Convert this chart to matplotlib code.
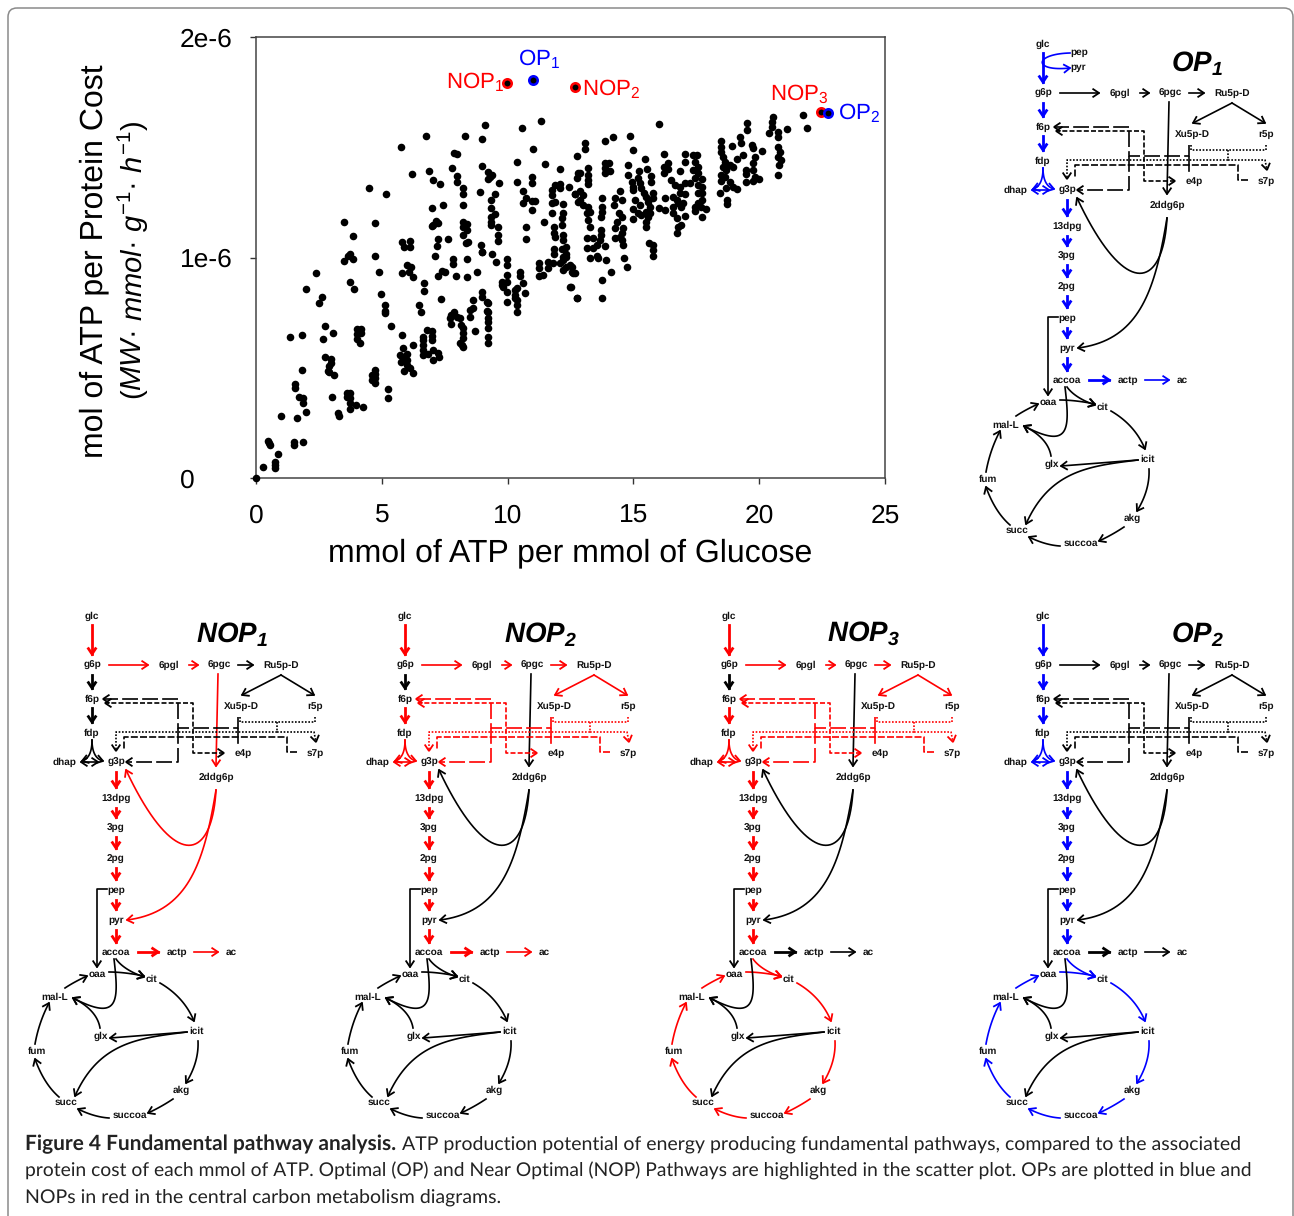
import numpy as np
from matplotlib import pyplot as plt
from matplotlib.patches import FancyBboxPatch

plt.rcParams['font.family'] = ['Liberation Sans', 'DejaVu Sans']
plt.rcParams['mathtext.fontset'] = 'custom'
plt.rcParams['mathtext.rm'] = 'Liberation Sans'
plt.rcParams['mathtext.it'] = 'Liberation Sans:italic'
plt.rcParams['mathtext.bf'] = 'Liberation Sans:bold'
plt.rcParams['mathtext.bfit'] = 'Liberation Sans:italic:bold'
plt.rcParams['text.hinting'] = 'none'

# scatter data: (mmol ATP per mmol glucose, 1e-6 mol ATP per protein cost)
pts_lower_left = [
    (0, 0), (.29, .048), (.74, .044), (.74, .059), (.75, .074), (.87, .109), (.49, .169), (.53, .16), (.57, .148),
    (1.5, .165), (1.5, .15), (1.85, .162), (.99, .281), (1.62, .271), (1.99, .298), (1.56, .425), (1.56, .407),
    (1.72, .367), (1.85, .361), (1.85, .339), (1.81, .49), (1.36, .641), (1.83, .65), (1.99, .857), (2.37, .931),
    (2.49, .792), (2.61, .819), (2.74, .689), (2.68, .629), (3.07, .658), (2.74, .55), (2.98, .538), (2.98, .523),
    (2.89, .508), (2.86, .487), (2.89, .479), (3.11, .466), (3.01, .367), (3.27, .293), (3.29, .281), (3.6, .387),
    (3.74, .384), (3.6, .366), (3.74, .361), (3.74, .339), (3.74, .314), (3.99, .331), (4.24, .32), (3.75, .89),
    (3.91, .856), (3.5, .986), (3.67, 1.007), (3.74, 1.016), (3.84, .993), (4.74, 1.007), (4.87, .936), (4.98, .834),
    (5.11, .785), (5.11, .757), (5.11, .747), (5.36, .689), (4.0, .674), (4.16, .674), (4.0, .653), (4.16, .656),
    (4.0, .629), (4.13, .611), (5.79, .649), (4.73, .49), (4.73, .472), (4.6, .467), (4.73, .452), (4.6, .444),
    (4.73, .429), (5.25, .404), (5.25, .361), (5.79, .928), (6.01, .966), (6.15, .958), (6.09, .936), (6.25, .913),
    (5.72, .558), (5.99, .562), (5.75, .528), (6.01, .535), (5.85, .588), (5.88, .487), (6.12, .497), (6.23, .478),
    (5.85, .543), (5.99, .512), (6.25, .603), (6.69, .883), (6.69, .85), (6.49, .785), (6.54, .754), (6.62, .641),
    (6.78, .671), (6.98, .666), (6.98, .644), (6.62, .625), (6.62, .603), (6.62, .58), (6.62, .558), (6.85, .562),
    (6.98, .626), (7.05, .58), (7.24, .565), (7.28, .547), (7.05, .535), (7.13, 1.007), (7.25, .916), (7.38, .94),
    (7.51, .936), (7.36, .81), (7.83, .992), (7.83, .97), (7.95, .916), (8.37, .993), (8.37, .913), (8.79, .936),
    (8.97, 1.026), (9.38, 1.016), (9.54, .98), (9.99, .992), (9.99, .966), (7.7, .724), (7.87, .754), (7.77, .739),
    (8.0, .732), (8.11, .724), (7.74, .698), (8.13, .694), (8.21, .679), (8.24, .656), (8.24, .633), (8.11, .611),
    (8.24, .596), (8.17, .603), (8.5, .732), (8.61, .807), (8.5, .762), (8.64, .77), (8.7, .668), (8.99, .845),
    (8.99, .822), (9.17, .8), (9.23, .792), (9.17, .759), (9.23, .754), (9.23, .724), (9.23, .709), (9.23, .679),
    (9.23, .638), (9.23, .611), (9.76, .89), (9.96, .921), (9.96, .89), (9.83, .868), (9.96, .845), (9.96, .8),
    (9.76, .875), (10.49, .936), (10.49, .916), (10.62, .886), (10.7, .84), (10.29, .853), (10.36, .86), (10.29, .83),
    (10.36, .807), (10.36, .785), (10.36, .754), (10.29, .815), (11.23, .977), (11.23, .951), (11.23, .916),
    (11.39, .921), (11.62, .951), (11.62, .981), (11.81, .977), (12.08, .974), (12.21, .989), (12.34, 1.004),
    (12.34, .958), (12.21, .943), (12.48, .966), (12.55, .936), (12.68, .928), (12.49, .868), (12.74, .815),
]
pts_upper_left = [
    (3.5, 1.163), (4.74, 1.155), (3.84, 1.097), (4.49, 1.314), (5.15, 1.286), (5.75, 1.5), (6.21, 1.379), (6.74, 1.551),
    (6.86, 1.391), (7.03, 1.353), (7.32, 1.332), (7.79, 1.407), (7.87, 1.472), (8.0, 1.468), (7.99, 1.371), (7.99, 1.344),
    (8.24, 1.315), (8.24, 1.286), (8.24, 1.237), (7.44, 1.238), (6.98, 1.223), (7.05, 1.147), (7.15, 1.167), (6.98, 1.143),
    (7.25, 1.155), (8.24, 1.163), (8.37, 1.152), (8.24, 1.14), (8.37, 1.125), (8.24, 1.102), (8.44, 1.072), (8.34, 1.064),
    (7.25, 1.082), (7.65, 1.082), (7.18, 1.052), (5.79, 1.07), (6.12, 1.076), (5.88, 1.049), (6.12, 1.049), (8.32, 1.551),
    (8.99, 1.539), (9.11, 1.601), (8.99, 1.416), (9.23, 1.389), (9.3, 1.367), (9.23, 1.354), (9.38, 1.374), (9.66, 1.339),
    (8.9, 1.296), (9.5, 1.286), (9.36, 1.261), (9.36, 1.223), (9.5, 1.197), (9.36, 1.185), (9.36, 1.163), (9.36, 1.147),
    (9.6, 1.14), (9.63, 1.102), (9.63, 1.076), (8.93, 1.057), (8.97, 1.026), (10.36, 1.432), (10.36, 1.344), (10.58, 1.589),
    (11.32, 1.621), (10.99, 1.492), (11.48, 1.422), (12.08, 1.4), (12.45, 1.321), (10.95, 1.367), (10.95, 1.336),
    (10.62, 1.303), (10.75, 1.271), (10.62, 1.249), (10.95, 1.256), (11.08, 1.256), (10.95, 1.215), (10.75, 1.14),
    (10.75, 1.082), (11.44, 1.163), (11.75, 1.306), (11.75, 1.283), (11.88, 1.329), (12.08, 1.333), (12.08, 1.314),
    (11.75, 1.246), (11.88, 1.253), (12.19, 1.243), (11.75, 1.2), (12.19, 1.2), (12.15, 1.177), (12.15, 1.147),
    (11.84, 1.137), (11.84, 1.109), (11.88, 1.094), (12.21, 1.102), (12.21, 1.079), (11.84, 1.04), (11.84, 1.017),
    (12.15, 1.04), (12.34, 1.047), (12.34, 1.017), (12.21, 1.004), (12.74, 1.46), (12.74, 1.359), (12.8, 1.382),
    (12.68, 1.286), (12.8, 1.253),
]
pts_upper_right = [
    (13.07, 1.518), (13.07, 1.491), (13.87, 1.527), (14.2, 1.545), (14.86, 1.551), (15.0, 1.488), (16.0, 1.605),
    (15.46, 1.447), (13.2, 1.404), (13.2, 1.374), (13.2, 1.352), (13.2, 1.333), (12.87, 1.382), (13.87, 1.427),
    (14.05, 1.427), (13.87, 1.404), (14.07, 1.394), (13.87, 1.382), (14.8, 1.42), (14.8, 1.374), (15.23, 1.394),
    (15.55, 1.4), (15.7, 1.37), (15.7, 1.344), (14.93, 1.344), (14.97, 1.321), (15.19, 1.359), (15.26, 1.336),
    (14.97, 1.306), (15.32, 1.314), (15.42, 1.291), (15.52, 1.276), (15.59, 1.253), (15.66, 1.231), (15.79, 1.291),
    (15.79, 1.268), (15.06, 1.261), (15.26, 1.238), (14.97, 1.218), (15.19, 1.203), (15.32, 1.193), (15.52, 1.208),
    (15.59, 1.185), (15.66, 1.2), (15.5, 1.163), (15.5, 1.14), (14.97, 1.175), (16.0, 1.223), (16.2, 1.469), (16.38, 1.43),
    (16.2, 1.412), (16.38, 1.4), (16.2, 1.382), (16.85, 1.394), (17.05, 1.469), (17.05, 1.435), (17.38, 1.465),
    (17.51, 1.465), (17.44, 1.435), (17.58, 1.412), (17.38, 1.397), (17.58, 1.382), (17.44, 1.359), (17.24, 1.336),
    (17.05, 1.336), (17.73, 1.356), (17.58, 1.329), (17.73, 1.321), (17.58, 1.291), (17.73, 1.291), (17.73, 1.261),
    (17.58, 1.246), (17.44, 1.231), (17.44, 1.211), (17.7, 1.231), (17.87, 1.218), (17.73, 1.185), (16.51, 1.351),
    (16.65, 1.329), (16.85, 1.321), (17.05, 1.288), (16.25, 1.268), (16.58, 1.276), (16.85, 1.291), (16.72, 1.261),
    (16.25, 1.214), (16.58, 1.231), (16.78, 1.246), (16.98, 1.249), (16.91, 1.231), (17.05, 1.188), (16.58, 1.2),
    (16.74, 1.177), (16.78, 1.14), (16.72, 1.109), (16.91, 1.147), (18.5, 1.53), (18.5, 1.503), (18.5, 1.48), (18.57, 1.457),
    (18.63, 1.435), (18.57, 1.412), (18.83, 1.42), (18.7, 1.397), (18.97, 1.412), (18.5, 1.374), (18.63, 1.366), (18.5, 1.347),
    (18.83, 1.344), (18.97, 1.321), (18.7, 1.314), (19.13, 1.311), (18.44, 1.291), (18.73, 1.263), (18.73, 1.243),
    (18.9, 1.506), (19.23, 1.548), (19.26, 1.521), (19.1, 1.445), (19.36, 1.465), (19.7, 1.51), (19.76, 1.495), (20.1, 1.483),
    (19.5, 1.612), (19.5, 1.578), (19.83, 1.454), (19.76, 1.427), (19.76, 1.397), (19.83, 1.366), (19.76, 1.348),
    (19.46, 1.397), (19.46, 1.379), (19.46, 1.341), (20.0, 1.356), (20.55, 1.636), (20.49, 1.616), (20.49, 1.593),
    (20.37, 1.563), (20.75, 1.571), (20.75, 1.548), (20.75, 1.503), (20.82, 1.48), (20.75, 1.457), (20.85, 1.442),
    (20.8, 1.42), (20.75, 1.374), (21.1, 1.581), (21.75, 1.645), (21.88, 1.586),
]
pts_mid_right = [
    (12.68, 1.286), (12.87, 1.302), (12.98, 1.283), (12.87, 1.261), (13.0, 1.238), (13.2, 1.228), (13.14, 1.2), (13.27, 1.208),
    (13.2, 1.17), (13.27, 1.137), (13.77, 1.268), (13.77, 1.231), (13.74, 1.208), (13.71, 1.185), (14.46, 1.302), (14.27, 1.268),
    (14.53, 1.261), (14.22, 1.238), (14.44, 1.203), (14.53, 1.185), (14.33, 1.163), (14.27, 1.132), (14.6, 1.132), (14.53, 1.11),
    (14.27, 1.087), (14.53, 1.079), (14.6, 1.057), (14.46, 1.094), (13.7, 1.125), (13.7, 1.102), (13.14, 1.087), (13.4, 1.087),
    (13.67, 1.079), (13.54, 1.057), (13.14, 1.041), (13.4, 1.041), (13.87, 1.052), (13.27, .999), (13.54, 1.006), (13.6, .996),
    (13.91, .988), (14.62, 1.0), (14.73, .958), (14.12, .936), (13.75, .898), (13.75, .816), (12.74, .816), (12.52, .868),
    (12.61, .928), (12.54, .958), (15.62, 1.067), (15.76, 1.057), (15.76, 1.034), (15.76, 1.008),
]

# highlighted pathways: name, x, y, colour
op_names = ['NOP1', 'OP1', 'NOP2', 'NOP3', 'OP2']
op_x = [9.98, 11.0, 12.68, 22.46, 22.73]
op_y = [1.791, 1.805, 1.773, 1.66, 1.655]
op_colors = ['red', 'blue', 'red', 'red', 'blue']

x_ticks = [0, 5, 10, 15, 20, 25]
y_ticks = [0, 1e-6, 2e-6]
y_tick_labels = ['0', '1e-6', '2e-6']

# metabolite labels, positions in pixels of the OP1 diagram
nodes = [
    ('glc', 1043, 44), ('g6p', 1043, 93), ('6pgl', 1120, 93), ('6pgc', 1170, 93), ('Ru5p-D', 1232, 93),
    ('f6p', 1043, 127), ('Xu5p-D', 1192, 134), ('r5p', 1266, 134), ('fdp', 1043, 161), ('e4p', 1194, 181),
    ('s7p', 1266, 181), ('dhap', 1016, 190), ('g3p', 1067, 190), ('2ddg6p', 1167, 205), ('13dpg', 1067, 226),
    ('3pg', 1067, 256), ('2pg', 1067, 287), ('pep', 1067, 318), ('pyr', 1067, 348), ('accoa', 1067, 380),
    ('actp', 1128, 380), ('ac', 1182, 380), ('oaa', 1048, 402), ('cit', 1102, 407), ('mal-L', 1006, 425),
    ('glx', 1052, 464), ('icit', 1148, 459), ('fum', 988, 479), ('akg', 1132, 518), ('succ', 1017, 530),
    ('succoa', 1081, 543),
]

# reactions: kind (line/curve), points, line style, thick, arrow heads at (start, end)
edges = {
    'glc_g6p': ('line', [(1043, 53), (1043, 82)], '-', True, (0, 1)),
    'g6p_6pgl': ('line', [(1060, 93), (1099, 93)], '-', False, (0, 1)),
    '6pgl_6pgc': ('line', [(1140, 93), (1149, 93)], '-', False, (0, 1)),
    '6pgc_ru5p': ('line', [(1189, 93), (1204, 93)], '-', False, (0, 1)),
    '6pgc_2ddg': ('line', [(1169, 102), (1167, 194)], '-', False, (0, 1)),
    'ru5p_xu5p': ('line', [(1232, 103), (1193, 123)], '-', False, (0, 1)),
    'ru5p_r5p': ('line', [(1232, 103), (1265, 123)], '-', False, (0, 1)),
    'g6p_f6p': ('line', [(1043, 103), (1043, 116)], '-', True, (0, 1)),
    'f6p_fdp': ('line', [(1043, 136), (1043, 150)], '-', True, (0, 1)),
    'fdp_dhap': ('curve', [(1043, 168), (1043, 186), (1033, 189)], '-', False, (0, 1)),
    'fdp_g3p': ('curve', [(1043, 168), (1043, 186), (1054, 189)], '-', False, (0, 1)),
    'dhap_g3p': ('line', [(1032, 190), (1049, 190)], '-', False, (1, 1)),
    'g3p_13dpg': ('line', [(1067, 200), (1067, 215)], '-', True, (0, 1)),
    '13dpg_3pg': ('line', [(1067, 236), (1067, 245)], '-', True, (0, 1)),
    '3pg_2pg': ('line', [(1067, 265), (1067, 276)], '-', True, (0, 1)),
    '2pg_pep': ('line', [(1067, 296), (1067, 307)], '-', True, (0, 1)),
    'pep_pyr': ('line', [(1067, 328), (1067, 337)], '-', True, (0, 1)),
    'pyr_accoa': ('line', [(1067, 358), (1067, 370)], '-', True, (0, 1)),
    'accoa_actp': ('line', [(1089, 380), (1109, 380)], '-', True, (0, 1)),
    'actp_ac': ('line', [(1145, 380), (1169, 380)], '-', False, (0, 1)),
    'pep_oaa': ('line', [(1058, 317), (1048, 317), (1048, 395)], '-', False, (0, 1)),
    'accoa_cit': ('curve', [(1067, 387), (1075, 398), (1095, 405)], '-', False, (0, 1)),
    'oaa_cit': ('curve', [(1060, 400), (1075, 400), (1095, 404)], '-', False, (0, 1)),
    'accoa_mal': ('curve', [(1065, 387), (1070, 430), (1070, 450), (1024, 426)], '-', False, (0, 1)),
    'glx_mal': ('curve', [(1051, 456), (1048, 438), (1024, 426)], '-', False, (0, 1)),
    'mal_oaa': ('curve', [(1016, 416), (1025, 410), (1038, 404)], '-', False, (0, 1)),
    'cit_icit': ('curve', [(1111, 411), (1135, 425), (1145, 449)], '-', False, (0, 1)),
    'icit_glx': ('curve', [(1138, 460), (1100, 463), (1061, 466)], '-', False, (0, 1)),
    'icit_succ': ('curve', [(1138, 460), (1090, 466), (1050, 470), (1026, 524)], '-', False, (0, 1)),
    'icit_akg': ('curve', [(1149, 469), (1150, 490), (1137, 511)], '-', False, (0, 1)),
    'akg_succoa': ('curve', [(1124, 527), (1112, 535), (1099, 541)], '-', False, (0, 1)),
    'succoa_succ': ('curve', [(1060, 546), (1045, 545), (1029, 537)], '-', False, (0, 1)),
    'succ_fum': ('curve', [(1010, 525), (995, 512), (986, 487)], '-', False, (0, 1)),
    'fum_mal': ('curve', [(986, 472), (990, 450), (1000, 431)], '-', False, (0, 1)),
    '2ddg_g3p': ('curve', [(1167, 218), (1163, 290), (1125, 300), (1077, 198)], '-', False, (0, 1)),
    '2ddg_pyr': ('curve', [(1167, 218), (1155, 290), (1140, 340), (1078, 348)], '-', False, (0, 1)),
    'tkt_f6p': ('line', [(1189, 145), (1189, 156), (1129, 156), (1129, 127), (1054, 127)], (0, (9.5, 2.5)), False, (0, 1)),
    'tkt_g3p': ('line', [(1189, 156), (1189, 172)], (0, (9.5, 2.5)), False, (0, 0)),
    'tkt_g3p2': ('line', [(1129, 156), (1129, 190), (1077, 190)], (0, (9.5, 2.5)), False, (0, 1)),
    'tal_f6p': ('line', [(1175, 181), (1144, 181), (1144, 131), (1056, 131)], (0, (3, 1.3)), False, (1, 1)),
    'tal_g3p': ('line', [(1248, 180), (1238, 180), (1238, 165), (1075, 165), (1075, 178)], (0, (4.2, 1.3)), False, (0, 0)),
    'dot_top': ('line', [(1191, 145), (1191, 150), (1266, 150), (1266, 145)], (0, (1, 1)), False, (0, 0)),
    'dot_mid': ('line', [(1228, 150), (1228, 160)], (0, (1, 1)), False, (0, 0)),
    'dot_s7p': ('line', [(1228, 160), (1265, 160), (1267, 170)], (0, (1, 1)), False, (0, 1)),
    'dot_g3p': ('line', [(1228, 160), (1067, 160), (1067, 179)], (0, (1, 1)), False, (0, 1)),
}
lower_glyc = ['g3p_13dpg', '13dpg_3pg', '3pg_2pg', '2pg_pep', 'pep_pyr', 'pyr_accoa']
fork = ['fdp_dhap', 'fdp_g3p', 'dhap_g3p']
ppp_ox = ['g6p_6pgl', '6pgl_6pgc']
ppp_non = ['6pgc_ru5p', 'ru5p_xu5p', 'ru5p_r5p', 'tkt_f6p', 'tkt_g3p', 'tkt_g3p2', 'tal_f6p', 'tal_g3p',
           'dot_top', 'dot_mid', 'dot_s7p', 'dot_g3p']
tca = ['accoa_cit', 'oaa_cit', 'mal_oaa', 'cit_icit', 'icit_akg', 'akg_succoa', 'succoa_succ', 'succ_fum', 'fum_mal']
acetate = ['accoa_actp', 'actp_ac']

# panel name, x shift, y shift, colour, coloured reactions, title position
panels = [
    ('OP', '1', 0, 0, 'blue', ['glc_g6p', 'g6p_f6p', 'f6p_fdp'] + fork + lower_glyc + acetate, 1197, 63),
    ('NOP', '1', -951, 572, 'red', ['glc_g6p', '6pgc_2ddg', '2ddg_g3p', '2ddg_pyr'] + ppp_ox + lower_glyc + acetate, 232, 634),
    ('NOP', '2', -638, 572, 'red', ['glc_g6p', 'f6p_fdp'] + fork + ppp_ox + ppp_non + lower_glyc + acetate, 541, 634),
    ('NOP', '3', -314, 572, 'red', ['glc_g6p', 'f6p_fdp'] + fork + ppp_ox + ppp_non + lower_glyc + tca, 864, 634),
    ('OP', '2', 0, 572, 'blue', ['glc_g6p', 'g6p_f6p', 'f6p_fdp'] + fork + lower_glyc + tca, 1197, 634),
]

caption_lines = [
    'ATP production potential of energy producing fundamental pathways, compared to the associated',
    'protein cost of each mmol of ATP. Optimal (OP) and Near Optimal (NOP) Pathways are highlighted in the scatter plot. OPs are plotted in blue and',
    'NOPs in red in the central carbon metabolism diagrams.',
]


def sample(kind, pts):
    pts = np.array(pts, dtype=float)
    if kind == 'line':
        return pts
    t = np.linspace(0, 1, 40)[:, None]
    if len(pts) == 3:
        return (1 - t) ** 2 * pts[0] + 2 * t * (1 - t) * pts[1] + t ** 2 * pts[2]
    return (1 - t) ** 3 * pts[0] + 3 * t * (1 - t) ** 2 * pts[1] + 3 * t ** 2 * (1 - t) * pts[2] + t ** 3 * pts[3]


def head(ax, tip, prev, color, lw):
    d = tip - prev
    d = d / np.hypot(*d)
    n = np.array([-d[1], d[0]])
    wing1 = tip - d * 6.5 + n * 4.3
    wing2 = tip - d * 6.5 - n * 4.3
    ax.plot([wing1[0], tip[0], wing2[0]], [wing1[1], tip[1], wing2[1]], color=color, lw=lw,
            solid_joinstyle='miter', solid_capstyle='butt')


def draw_edge(ax, edge, dx, dy, color):
    kind, pts, ls, thick, heads = edge
    xy = sample(kind, pts) + np.array([dx, dy])
    lw = 2.0 if thick else 1.2
    ax.plot(xy[:, 0], xy[:, 1], color=color, lw=lw, ls=ls, dash_capstyle='butt')
    if heads[0]:
        head(ax, xy[0], xy[1], color, max(lw, 1.3))
    if heads[1]:
        head(ax, xy[-1], xy[-2], color, max(lw, 1.3))


fig = plt.figure(figsize=(12.94, 12.16), dpi=100)

# scatter plot
ax = fig.add_axes([256 / 1294, 1 - 478 / 1216, 629 / 1294, 441 / 1216])
pts = np.array(pts_lower_left + pts_upper_left + pts_upper_right + pts_mid_right)
ax.scatter(pts[:, 0], pts[:, 1] * 1e-6, s=30, color='black', linewidths=0, clip_on=False, zorder=3)
for x, y, c in zip(op_x, op_y, op_colors):
    ax.scatter(x, y * 1e-6, s=37, color='black', edgecolors=c, linewidths=1.85, zorder=4)
ax.set_xlim(0, 25)
ax.set_ylim(0, 2e-6)
ax.set_xticks(x_ticks)
ax.set_yticks(y_ticks)
ax.set_yticklabels(y_tick_labels)
ax.yaxis.get_offset_text().set_visible(False)
ax.tick_params(axis='x', labelsize=19, length=4, width=1, pad=15, color='#333333')
ax.tick_params(axis='y', labelsize=19, length=4, width=1, pad=51, color='#333333')
for lab in ax.get_yticklabels():
    lab.set_ha('left')
for s in ax.spines.values():
    s.set_linewidth(1.1)
    s.set_color('#444444')
ax.set_zorder(1)

# overlay in pixel coordinates
ov = fig.add_axes([0, 0, 1, 1])
ov.set_xlim(0, 1294)
ov.set_ylim(1216, 0)
ov.axis('off')
ov.set_zorder(2)
ov.add_patch(FancyBboxPatch((8, 8), 1285, 1320, boxstyle='round,pad=0,rounding_size=9',
                            fc='none', ec='#8a8a8a', lw=1.1))

ov.text(570, 553, 'mmol of ATP per mmol of Glucose', fontsize=23, ha='center', va='center')
ov.text(94, 261, 'mol of ATP per Protein Cost', fontsize=23, rotation=90, ha='center', va='center')
ov.text(133, 260, r'($\mathit{MW}$· $\mathit{mmol}$· $\mathit{g}^{\mathit{-1}}$· $\mathit{h}^{\mathit{-1}}$)',
        fontsize=21, rotation=90, ha='center', va='center')

lbl = dict(fontsize=16, va='baseline')
ov.text(446, 88, r'NOP$_{1}$', color='red', **lbl)
ov.text(518, 65, r'OP$_{1}$', color='blue', **lbl)
ov.text(582, 95, r'NOP$_{2}$', color='red', **lbl)
ov.text(770, 100, r'NOP$_{3}$', color='red', **lbl)
ov.text(838, 119, r'OP$_{2}$', color='blue', **lbl)

for name, sub, dx, dy, color, colored, tx, ty in panels:
    for key, edge in edges.items():
        draw_edge(ov, edge, dx, dy, color if key in colored else 'black')
    for label, x, y in nodes:
        ov.text(x + dx, y + dy, label, fontsize=7.2, fontweight='bold', ha='center', va='center', color='#111111')
    ov.text(tx, ty, r'$\mathbfit{%s}_{\mathbfit{%s}}$' % (name, sub), fontsize=20, ha='center', va='center')

# glucose uptake through PTS, only drawn in OP1
pts_edge = ('curve', [(1070, 53), (1033, 54), (1033, 72), (1070, 68)], '-', False, (0, 1))
draw_edge(ov, pts_edge, 0, 0, 'blue')
ov.text(1079, 52, 'pep', fontsize=7.2, fontweight='bold', ha='center', va='center', color='#111111')
ov.text(1078, 67, 'pyr', fontsize=7.2, fontweight='bold', ha='center', va='center', color='#111111')

# caption
cap = dict(family=['Lato', 'DejaVu Sans'], va='baseline', color='#222222')
ov.text(25, 1150, 'Figure 4 Fundamental pathway analysis.', fontsize=15, fontweight='bold', **cap)
ov.text(402, 1150, caption_lines[0], fontsize=14, **cap)
ov.text(25, 1177, caption_lines[1], fontsize=13.83, **cap)
ov.text(25, 1203, caption_lines[2], fontsize=14, **cap)

plt.savefig('out.png', dpi=100)
